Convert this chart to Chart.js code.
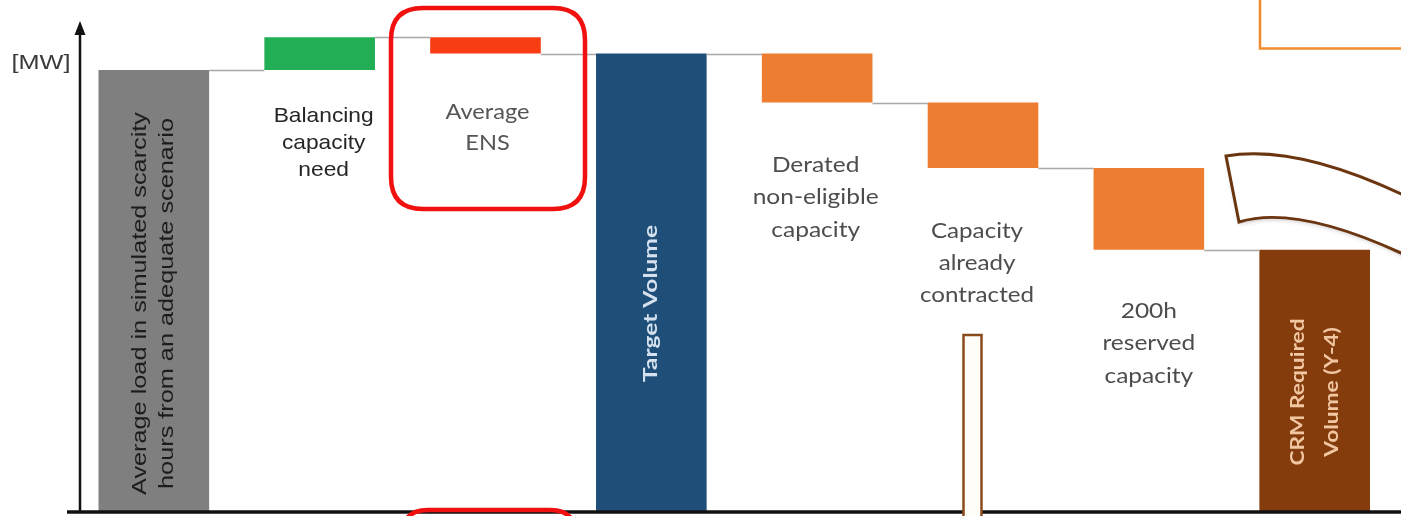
<!DOCTYPE html>
<html>
<head>
<meta charset="utf-8">
<script src="https://cdn.jsdelivr.net/npm/chart.js@4.4.1/dist/chart.umd.min.js"></script>
<style>
  html, body { margin: 0; padding: 0; background: #ffffff; overflow: hidden; }
  #wrap { width: 1401px; height: 516px; position: relative; }
  canvas { display: block; }
</style>
</head>
<body>
<div id="wrap"><canvas id="c" width="1401" height="516"></canvas></div>
<script>
// Waterfall: from average scarcity load to the CRM required volume (MW)
const categories = [
  ['Average load in simulated scarcity', 'hours from an adequate scenario'],
  ['Balancing', 'capacity', 'need'],
  ['Average', 'ENS'],
  ['Target Volume'],
  ['Derated', 'non-eligible', 'capacity'],
  ['Capacity', 'already', 'contracted'],
  ['200h', 'reserved', 'capacity'],
  ['CRM Required', 'Volume (Y-4)']
];
const stepValues = [6760, 500, -250, 7010, -750, -1000, -1250, 4010];
const stepKinds  = ['total', 'delta', 'delta', 'total', 'delta', 'delta', 'delta', 'total'];
const barColors  = ['#7f7f7f', '#22ae55', '#f83c14', '#1f4e79', '#ed7d31', '#ed7d31', '#ed7d31', '#843c0c'];
const yTicks = [0, 1000, 2000, 3000, 4000, 5000, 6000, 7000];
const yUnit = '[MW]';

// floating [start, end] ranges and the running level after each step
let running = 0;
const levels = [];
const ranges = stepValues.map((v, i) => {
  let r;
  if (stepKinds[i] === 'total') { running = v; r = [0, v]; }
  else { const s = running; running += v; r = [s, running]; }
  levels.push(running);
  return r;
});

const labelStyle = [
  { rot: true, font: '21px "Liberation Sans"', color: '#1c1c1c', fit: ['Average load in simulated scarcity', 383], xs: [-13.5, 13.5], y: 303.5 },
  { font: '21px "Liberation Sans"', color: '#262626', fit: ['Balancing', 100], dx: 4, ys: [116.5, 143.3, 170] },
  { font: '21px Lato', color: '#555555', fit: ['Average', 84], dx: 2, ys: [112, 143.5] },
  { rot: true, font: 'bold 19px Lato', color: '#d5e1ee', fit: ['Target Volume', 157], xs: [0], y: 303.5 },
  { font: '21px Lato', color: '#4d4d4d', fit: ['non-eligible', 126], dx: -1.5, ys: [165, 197.5, 230] },
  { font: '21px Lato', color: '#4d4d4d', fit: ['contracted', 114], dx: -6, ys: [231.5, 263.5, 295.5] },
  { font: '21px Lato', color: '#4d4d4d', fit: ['non-eligible', 126], dx: 0, ys: [311, 343, 376] },
  { rot: true, font: 'bold 19px Lato', color: '#f1c7a2', fit: ['CRM Required', 147], xs: [-16.5, 17.5], y: 392 }
];

function stretchFor(ctx, font, sample, width) {
  ctx.save(); ctx.font = font;
  const w = ctx.measureText(sample).width;
  ctx.restore();
  return w > 0 ? width / w : 1;
}

function drawText(ctx, s, x, y, font, color, sx, rot) {
  ctx.save();
  ctx.translate(x, y);
  if (rot) ctx.rotate(-Math.PI / 2);
  ctx.scale(sx, 1);
  ctx.font = font;
  ctx.fillStyle = color;
  ctx.textAlign = 'center';
  ctx.textBaseline = 'middle';
  ctx.fillText(s, 0, 0);
  ctx.restore();
}

function roundRectPath(ctx, x, y, w, h, r) {
  ctx.beginPath();
  ctx.moveTo(x + r, y);
  ctx.lineTo(x + w - r, y);
  ctx.quadraticCurveTo(x + w, y, x + w, y + r);
  ctx.lineTo(x + w, y + h - r);
  ctx.quadraticCurveTo(x + w, y + h, x + w - r, y + h);
  ctx.lineTo(x + r, y + h);
  ctx.quadraticCurveTo(x, y + h, x, y + h - r);
  ctx.lineTo(x, y + r);
  ctx.quadraticCurveTo(x, y, x + r, y);
  ctx.closePath();
}

const waterfallDecor = {
  id: 'waterfallDecor',
  afterDatasetsDraw(chart) {
    const ctx = chart.ctx;
    const ys = chart.scales.y;
    const bars = chart.getDatasetMeta(0).data;
    // connector lines between consecutive bars
    ctx.save();
    ctx.strokeStyle = '#a8a8a8';
    ctx.lineWidth = 1.6;
    for (let i = 0; i < bars.length - 1; i++) {
      const y = Math.round(ys.getPixelForValue(levels[i])) + 0.5;
      const x1 = bars[i].x + bars[i].width / 2;
      const x2 = bars[i + 1].x - bars[i + 1].width / 2;
      ctx.beginPath(); ctx.moveTo(x1, y); ctx.lineTo(x2, y); ctx.stroke();
    }
    ctx.restore();
  },
  afterDraw(chart) {
    const ctx = chart.ctx;
    const bars = chart.getDatasetMeta(0).data;
    const ys = chart.scales.y;
    const y0 = ys.getPixelForValue(0);

    // category texts
    categories.forEach((lines, i) => {
      const st = labelStyle[i];
      const sx = stretchFor(ctx, st.font, st.fit[0], st.fit[1]);
      const cx = bars[i].x;
      if (st.rot) {
        lines.forEach((ln, k) => drawText(ctx, ln, cx + st.xs[k], st.y, st.font, st.color, sx, true));
      } else {
        lines.forEach((ln, k) => drawText(ctx, ln, cx + st.dx, st.ys[k], st.font, st.color, sx, false));
      }
    });

    // unit label
    const uf = '21px "Liberation Sans"';
    drawText(ctx, yUnit, 41, 63.5, uf, '#3a3a3a', stretchFor(ctx, uf, yUnit, 59), false);

    // axes
    ctx.save();
    ctx.strokeStyle = '#111111';
    ctx.fillStyle = '#111111';
    ctx.lineWidth = 2.5;
    ctx.beginPath(); ctx.moveTo(80, y0); ctx.lineTo(80, 32); ctx.stroke();
    ctx.beginPath(); ctx.moveTo(80, 21); ctx.lineTo(74.5, 35); ctx.lineTo(85.5, 35); ctx.closePath(); ctx.fill();
    ctx.lineWidth = 3.5;
    ctx.beginPath(); ctx.moveTo(67, y0); ctx.lineTo(1401, y0); ctx.stroke();
    ctx.restore();

    // highlight frames
    ctx.save();
    ctx.strokeStyle = '#f01010';
    ctx.lineWidth = 4.5;
    roundRectPath(ctx, 391, 8, 194, 201, 32); ctx.stroke();
    roundRectPath(ctx, 402, 510, 174, 60, 26); ctx.stroke();

    ctx.strokeStyle = '#f28a2e';
    ctx.lineWidth = 2.5;
    ctx.beginPath(); ctx.moveTo(1260, -5); ctx.lineTo(1260, 48.5); ctx.lineTo(1410, 48.5); ctx.stroke();

    // curved ribbon on the right
    ctx.shadowColor = 'rgba(0,0,0,0.25)';
    ctx.shadowBlur = 5;
    ctx.shadowOffsetX = 1; ctx.shadowOffsetY = 2;
    ctx.beginPath();
    ctx.moveTo(1226, 156);
    ctx.quadraticCurveTo(1300, 143, 1420, 203);
    ctx.lineTo(1420, 262);
    ctx.quadraticCurveTo(1300, 203, 1239, 222);
    ctx.closePath();
    ctx.fillStyle = '#ffffff';
    ctx.fill();
    ctx.shadowColor = 'transparent';
    ctx.strokeStyle = '#6b3510';
    ctx.lineWidth = 3;
    ctx.stroke();

    // narrow outlined bar
    ctx.fillStyle = '#fffdf8';
    ctx.fillRect(963, 335, 19, 190);
    ctx.strokeStyle = '#8b4a1c';
    ctx.lineWidth = 2.5;
    ctx.beginPath(); ctx.moveTo(963.5, 530); ctx.lineTo(963.5, 335); ctx.lineTo(981.5, 335); ctx.lineTo(981.5, 530); ctx.stroke();
    ctx.restore();
  }
};

new Chart(document.getElementById('c'), {
  type: 'bar',
  data: {
    labels: categories.map(c => c.join(' ')),
    datasets: [{
      data: ranges,
      backgroundColor: barColors,
      borderWidth: 0,
      barPercentage: 1,
      categoryPercentage: 0.667
    }]
  },
  options: {
    responsive: false,
    devicePixelRatio: 1,
    animation: false,
    layout: { padding: { left: 70.9, right: 3.4, top: 21.5, bottom: 4 } },
    plugins: { legend: { display: false }, tooltip: { enabled: false } },
    scales: {
      x: { display: false, offset: true },
      y: {
        min: 0, max: 7500,
        ticks: { display: false, stepSize: 1000 },
        border: { display: false },
        grid: {
          drawTicks: false,
          lineWidth: 1,
          color: c => (yTicks.includes(c.tick.value) && c.tick.value > 0) ? '#eeeeee' : 'rgba(0,0,0,0)'
        },
        afterFit: s => { s.width = 0; }
      }
    }
  },
  plugins: [waterfallDecor]
});
</script>
</body>
</html>
